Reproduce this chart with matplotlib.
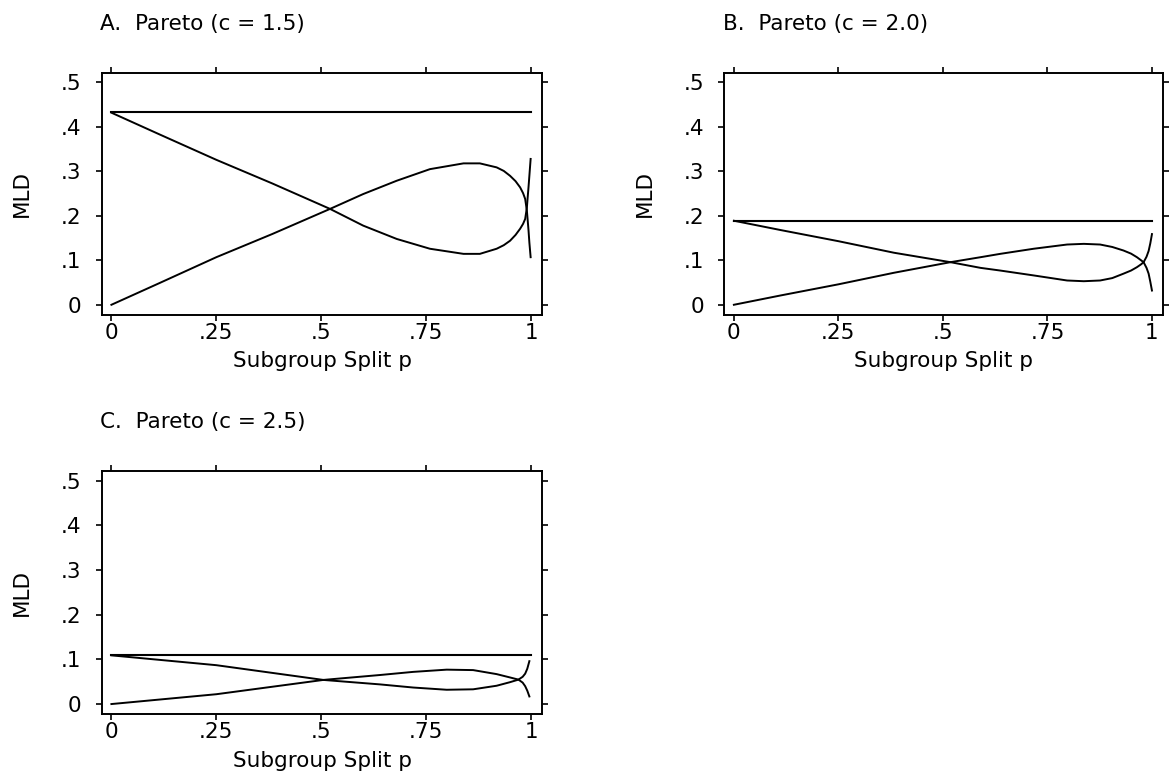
import matplotlib
matplotlib.use("Agg")
import matplotlib.pyplot as plt

plt.rcParams["font.family"] = "DejaVu Sans"
FS = 15.5

# A. Pareto (c = 1.5)
a_total = 0.4325
a_p = [0, 0.115, 0.25, 0.383, 0.521, 0.600, 0.680, 0.759, 0.839, 0.878, 0.918,
       0.935, 0.950, 0.963, 0.974, 0.981, 0.986, 0.990, 0.992, 0.994, 0.996, 0.999]
a_between = [0, 0.049, 0.107, 0.159, 0.2156, 0.249, 0.279, 0.305, 0.318, 0.318, 0.309,
             0.301, 0.290, 0.278, 0.264, 0.251, 0.238, 0.212, 0.190, 0.167, 0.140, 0.107]
a_within = [0.432, 0.383, 0.326, 0.273, 0.2156, 0.178, 0.148, 0.126, 0.1145, 0.1145, 0.126,
            0.134, 0.144, 0.157, 0.171, 0.182, 0.193, 0.218, 0.242, 0.265, 0.290, 0.328]

# B. Pareto (c = 2.0)
b_total = 0.189
b_p = [0, 0.112, 0.25, 0.383, 0.518, 0.590, 0.637, 0.717, 0.797, 0.837, 0.876,
       0.905, 0.932, 0.950, 0.964, 0.974, 0.980, 0.987, 0.992, 0.996, 1.0]
b_between = [0, 0.021, 0.046, 0.072, 0.0958, 0.107, 0.1145, 0.126, 0.1355, 0.137, 0.1355,
             0.130, 0.122, 0.115, 0.107, 0.100, 0.0957, 0.083, 0.070, 0.052, 0.032]
b_within = [0.189, 0.168, 0.143, 0.117, 0.0958, 0.083, 0.077, 0.066, 0.0546, 0.053, 0.0546,
            0.060, 0.070, 0.077, 0.0845, 0.091, 0.0957, 0.108, 0.121, 0.138, 0.159]

# C. Pareto (c = 2.5)
c_total = 0.109
c_p = [0, 0.25, 0.505, 0.640, 0.719, 0.799, 0.862, 0.918, 0.950, 0.970,
       0.980, 0.986, 0.991, 0.996]
c_between = [0, 0.022, 0.054, 0.065, 0.072, 0.077, 0.076, 0.067, 0.0595, 0.0547,
             0.048, 0.040, 0.030, 0.017]
c_within = [0.109, 0.087, 0.054, 0.044, 0.037, 0.032, 0.033, 0.041, 0.049, 0.0547,
            0.061, 0.068, 0.079, 0.096]

x_ticks = [0, 0.25, 0.5, 0.75, 1]
x_ticklabels = ["0", ".25", ".5", ".75", "1"]
y_ticks = [0, 0.1, 0.2, 0.3, 0.4, 0.5]
y_ticklabels = ["0", ".1", ".2", ".3", ".4", ".5"]

panels = [
    ("A.  Pareto (c = 1.5)", a_total, a_p, a_between, a_within, [0.0866, 0.5977, 0.375, 0.3095]),
    ("B.  Pareto (c = 2.0)", b_total, b_p, b_between, b_within, [0.6164, 0.5977, 0.3736, 0.3095]),
    ("C.  Pareto (c = 2.5)", c_total, c_p, c_between, c_within, [0.0866, 0.0877, 0.375, 0.311]),
]

fig = plt.figure(figsize=(11.75, 7.83), dpi=100)

for title, total, p, between, within, rect in panels:
    ax = fig.add_axes(rect)
    ax.plot([0, 1], [total, total], color="black", lw=1.5)
    ax.plot(p, between, color="black", lw=1.4)
    ax.plot(p, within, color="black", lw=1.4)

    ax.set_xlim(-0.023, 1.027)
    ax.set_ylim(-0.023, 0.522)
    ax.set_xticks(x_ticks)
    ax.set_xticklabels(x_ticklabels, fontsize=FS)
    ax.set_yticks(y_ticks)
    ax.set_yticklabels(y_ticklabels, fontsize=FS)
    ax.tick_params(direction="out", length=4.5, width=1.2, top=True, right=True)
    ax.tick_params(axis="y", pad=10)
    ax.tick_params(axis="x", pad=1)
    for s in ax.spines.values():
        s.set_linewidth(1.4)

    ax.set_xlabel("Subgroup Split p", fontsize=FS)
    ax.xaxis.set_label_coords(0.5, -0.15)
    ax.set_ylabel("MLD", fontsize=FS)
    ax.yaxis.set_label_coords(-0.159, 0.5)

    # panel title sits left-aligned above the frame
    ax.text(-0.003, 1.2, title, transform=ax.transAxes, fontsize=FS,
            ha="left", va="center")

fig.savefig("out.png", dpi=100)
